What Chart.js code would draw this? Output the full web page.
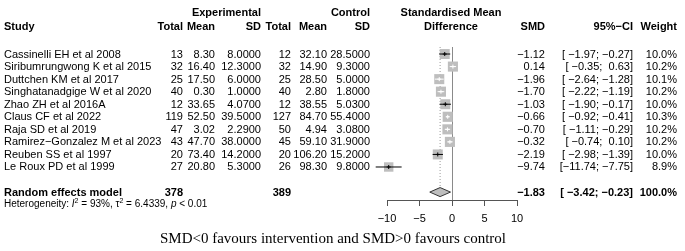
<!DOCTYPE html>
<html>
<head>
<meta charset="utf-8">
<script src="https://cdn.jsdelivr.net/npm/chart.js@4"></script>
<style>
  html, body { margin: 0; padding: 0; background: #fff; }
  #wrap { position: relative; width: 685px; height: 251px; font-family: 'Liberation Sans', Arial, sans-serif; font-size: 11px; color: #000; }
  #plot { position: absolute; left: 0; top: 0; }
  .t { position: absolute; white-space: pre; line-height: 13px; }
  .b { font-weight: bold; }
  .het { font-size: 10px; line-height: 11px; }
  .het sup { font-size: 7px; vertical-align: 4px; line-height: 0; }
  .foot { font-family: 'Liberation Serif', 'Times New Roman', serif; font-size: 15px; line-height: 17px; }
</style>
</head>
<body>
<div id="wrap"><canvas id="plot" width="685" height="251"></canvas></div>
<script>
// ---------------------------------------------------
const studies = [ 'Cassinelli EH et al 2008', 'Siribumrungwong K et al 2015', 'Duttchen KM et al 2017',
    'Singhatanadgige W et al 2020', 'Zhao ZH et al 2016A', 'Claus CF et al 2022', 'Raja SD et al 2019',
    'Ramirez\u2212Gonzalez M et al 2023', 'Reuben SS et al 1997', 'Le Roux PD et al 1999' ];
const expTotal = [ 13, 32, 25, 40, 12, 119, 47, 43, 20, 27 ];
const expMean = [ 8.30, 16.40, 17.50, 0.30, 33.65, 52.50, 3.02, 47.70, 73.40, 20.80 ];
const expSD = [ 8.0, 12.3, 6.0, 1.0, 4.07, 39.5, 2.29, 38.0, 14.2, 5.3 ];
const ctrlTotal = [ 12, 32, 25, 40, 12, 127, 50, 45, 20, 26 ];
const ctrlMean = [ 32.10, 14.90, 28.50, 2.80, 38.55, 84.70, 4.94, 59.10, 106.20, 98.30 ];
const ctrlSD = [ 28.5, 9.3, 5.0, 1.8, 5.03, 55.4, 3.08, 31.9, 15.2, 9.8 ];
const smd = [ -1.12, 0.14, -1.96, -1.70, -1.03, -0.66, -0.70, -0.32, -2.19, -9.74 ];
const ciLow = [ -1.97, -0.35, -2.64, -2.22, -1.90, -0.92, -1.11, -0.74, -2.98, -11.74 ];
const ciHigh = [ -0.27, 0.63, -1.28, -1.19, -0.17, -0.41, -0.29, 0.10, -1.39, -7.75 ];
const weight = [ 10.0, 10.2, 10.1, 10.2, 10.0, 10.3, 10.2, 10.2, 10.0, 8.9 ];
const pooled = [ -1.83, -3.42, -0.23 ];   // estimate, lower, upper
const pooledTotals = [ 378, 389 ];
const xTicks = [ -10, -5, 0, 5, 10 ];
// ---------------------------------------------------
const pooledRow = 11;
const pxPerUnit = 130 / 20;
const boxSide = weight.map( w => 10 * Math.sqrt( w / 10 ) );
const inside = smd.map( ( v, i ) => ( ciHigh[ i ] - ciLow[ i ] ) * pxPerUnit < boxSide[ i ] );
const minus = s => s.replace( /-/g, '\u2212' );

function segs( keep ) {
    const out = [];
    smd.forEach( ( v, i ) => {
        if ( inside[ i ] !== keep ) return;
        out.push( { x: ciLow[ i ], y: i }, { x: ciHigh[ i ], y: i }, { x: NaN, y: NaN } );
    });
    return out;
}

const dH = 0.36;
const chart = new Chart( document.getElementById( 'plot' ), {
    type: 'scatter',
    data: {
        datasets: [
            {   // dotted line at pooled estimate
                data: [ { x: pooled[ 0 ], y: -0.56 }, { x: pooled[ 0 ], y: pooledRow - dH } ],
                showLine: true, pointRadius: 0, borderColor: '#9a9a9a', borderWidth: 1,
                borderDash: [ 1, 2 ], order: 9, clip: false
            },
            {   // study boxes
                data: smd.map( ( v, i ) => ( { x: v, y: i } ) ),
                pointStyle: 'rect', pointRadius: boxSide.map( s => s / Math.SQRT2 ),
                backgroundColor: '#bebebe', borderColor: '#bebebe', borderWidth: 0, order: 5, clip: false
            },
            {   // CI lines wider than box
                data: segs( false ), showLine: true, spanGaps: false, pointRadius: 0,
                borderColor: '#000', borderWidth: 1, order: 3, clip: false
            },
            {   // CI lines inside box
                data: segs( true ), showLine: true, spanGaps: false, pointRadius: 0,
                borderColor: '#fff', borderWidth: 1, order: 2, clip: false
            },
            {   // centre marks
                data: smd.map( ( v, i ) => ( { x: v, y: i } ) ),
                pointStyle: 'cross', pointRadius: 2,
                borderColor: inside.map( f => f ? '#fff' : '#000' ), borderWidth: 1, order: 1, clip: false
            },
            {   // pooled diamond
                data: [ { x: pooled[ 1 ], y: pooledRow }, { x: pooled[ 0 ], y: pooledRow - dH },
                        { x: pooled[ 2 ], y: pooledRow }, { x: pooled[ 0 ], y: pooledRow + dH },
                        { x: pooled[ 1 ], y: pooledRow } ],
                showLine: true, pointRadius: 0, fill: 'shape', backgroundColor: '#bebebe',
                borderColor: '#333', borderWidth: 1, order: 4, clip: false
            }
        ]
    },
    options: {
        responsive: false,
        animation: false,
        devicePixelRatio: 1,
        layout: { padding: { left: 387, right: 168, top: 47, bottom: 0 } },
        plugins: { legend: { display: false }, tooltip: { enabled: false } },
        scales: {
            x: {
                type: 'linear', min: -10, max: 10,
                afterBuildTicks: s => { s.ticks = xTicks.map( v => ( { value: v } ) ); },
                afterFit: s => { s.height = 51; },
                ticks: { color: '#000', padding: 6, font: { size: 11 }, callback: v => minus( String( v ) ) },
                grid: {
                    drawOnChartArea: true, drawTicks: true, tickLength: 6, tickColor: '#555',
                    color: c => ( c.tick && c.tick.value === 0 ) ? '#8a8a8a' : 'rgba(0,0,0,0)'
                },
                border: { display: true, color: '#555' }
            },
            y: { type: 'linear', reverse: true, min: -0.56, max: 11.63, display: false }
        }
    }
});
// ---------------------------------------------------
const wrap = document.getElementById( 'wrap' );
function put( text, x, y, align, cls, html ) {
    const d = document.createElement( 'div' );
    d.className = 't' + ( cls ? ' ' + cls : '' );
    if ( html ) d.innerHTML = text; else d.textContent = text;
    wrap.appendChild( d );
    const h = d.offsetHeight;
    d.style.top = ( y - h / 2 ) + 'px';
    if ( align === 'right' ) d.style.right = ( 685 - x ) + 'px';
    else if ( align === 'center' ) { d.style.left = x + 'px'; d.style.transform = 'translateX(-50%)'; }
    else d.style.left = x + 'px';
}
const yS = chart.scales.y;
const col = { study: 4, eT: 183, eM: 215, eS: 261, cT: 291, cM: 327, cS: 370, smd: 545, ci: 633, w: 677 };

// headers
put( 'Experimental', col.eS, 12, 'right', 'b' );
put( 'Control', col.cS, 12, 'right', 'b' );
put( 'Standardised Mean', 451, 12, 'center', 'b' );
put( 'Study', col.study, 26, 'left', 'b' );
put( 'Total', col.eT, 26, 'right', 'b' );
put( 'Mean', col.eM, 26, 'right', 'b' );
put( 'SD', col.eS, 26, 'right', 'b' );
put( 'Total', col.cT, 26, 'right', 'b' );
put( 'Mean', col.cM, 26, 'right', 'b' );
put( 'SD', col.cS, 26, 'right', 'b' );
put( 'Difference', 451, 26, 'center', 'b' );
put( 'SMD', col.smd, 26, 'right', 'b' );
put( '95%\u2212CI', col.ci, 26, 'right', 'b' );
put( 'Weight', col.w, 26, 'right', 'b' );

const pad = ( s, n ) => ( ' '.repeat( Math.max( 0, n - s.length ) ) + s );
const ciText = ( lo, hi ) => '[' + pad( minus( lo.toFixed( 2 ) ), 6 ) + ';' + pad( minus( hi.toFixed( 2 ) ), 6 ) + ']';

studies.forEach( ( s, i ) => {
    const y = yS.getPixelForValue( i );
    put( s, col.study, y, 'left' );
    put( String( expTotal[ i ] ), col.eT, y, 'right' );
    put( expMean[ i ].toFixed( 2 ), col.eM, y, 'right' );
    put( expSD[ i ].toFixed( 4 ), col.eS, y, 'right' );
    put( String( ctrlTotal[ i ] ), col.cT, y, 'right' );
    put( ctrlMean[ i ].toFixed( 2 ), col.cM, y, 'right' );
    put( ctrlSD[ i ].toFixed( 4 ), col.cS, y, 'right' );
    put( minus( smd[ i ].toFixed( 2 ) ), col.smd, y, 'right' );
    put( ciText( ciLow[ i ], ciHigh[ i ] ), col.ci, y, 'right' );
    put( weight[ i ].toFixed( 1 ) + '%', col.w, y, 'right' );
});

const yp = yS.getPixelForValue( pooledRow );
put( 'Random effects model', col.study, yp, 'left', 'b' );
put( String( pooledTotals[ 0 ] ), col.eT, yp, 'right', 'b' );
put( String( pooledTotals[ 1 ] ), col.cT, yp, 'right', 'b' );
put( minus( pooled[ 0 ].toFixed( 2 ) ), col.smd, yp, 'right', 'b' );
put( ciText( pooled[ 1 ], pooled[ 2 ] ), col.ci, yp, 'right', 'b' );
put( '100.0%', col.w, yp, 'right', 'b' );
put( 'Heterogeneity: <i>I</i><sup>2</sup> = 93%, \u03c4<sup>2</sup> = 6.4339, <i>p</i> &lt; 0.01',
     col.study, yS.getPixelForValue( 11.88 ), 'left', 'het', true );

put( 'SMD&lt;0 favours intervention and SMD&gt;0 favours control', 333, 238, 'center', 'foot', true );
// ---------------------------------------------------
</script>
</body>
</html>
